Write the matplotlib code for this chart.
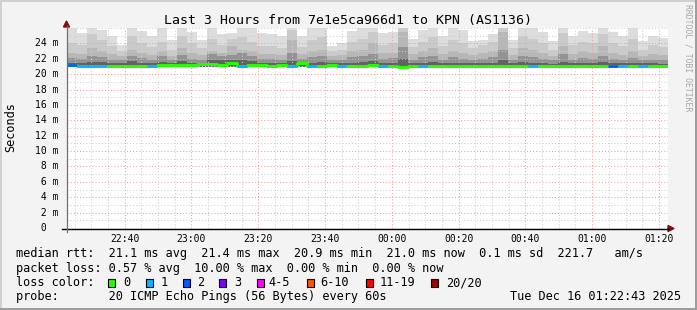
import matplotlib
matplotlib.use('Agg')
import matplotlib.pyplot as plt
import matplotlib.dates as mdates
from matplotlib.patches import Polygon, Rectangle
from matplotlib.lines import Line2D
from matplotlib.transforms import blended_transform_factory
from datetime import datetime, timedelta
import numpy as np

# ---------------- data ----------------
title = "Last 3 Hours from 7e1e5ca966d1 to KPN (AS1136)"
start_time = datetime(2025, 12, 15, 22, 22, 43)
step_minutes = 3

smoke_max = [26, 25.4, 26, 25.7, 25.0, 23.8, 26, 25.6, 25.0, 26, 24.4, 26, 25.5, 24.5, 26, 25.2, 25.4, 26, 26, 25.3,
             25.2, 25.0, 26, 24.9, 26, 26, 23.6, 24.0, 25.6, 26, 26, 25.3, 25.5, 26, 24.6, 25.8, 26, 25.0, 26, 25.7,
             24.3, 24.5, 25.2, 26, 24.4, 26, 26, 25.5, 24.3, 26, 25.0, 25.6, 25.4, 26, 25.5, 24.9, 26, 24.3, 25.0, 24.7]
smoke_p19 = [24.0, 23.8, 25.2, 24.5, 23.6, 23.0, 25.0, 24.0, 23.5, 24.2, 23.2, 25.0, 24.0, 23.4, 24.6, 23.8, 24.6, 24.8, 24.2, 23.6,
             23.6, 23.4, 25.8, 23.5, 24.4, 24.8, 23.0, 23.2, 24.2, 24.6, 25.5, 23.8, 24.0, 26, 23.5, 24.2, 24.8, 23.6, 24.5, 24.0,
             23.4, 23.8, 24.2, 26, 23.4, 25.0, 24.6, 24.0, 23.2, 25.4, 23.8, 24.2, 24.0, 25.2, 24.0, 23.6, 24.6, 23.2, 23.8, 23.5]
smoke_p17 = [22.8, 22.6, 23.4, 23.0, 22.6, 22.4, 23.2, 22.8, 22.5, 23.0, 22.4, 23.4, 22.8, 22.5, 23.0, 22.8, 23.6, 23.2, 23.0, 22.6,
             22.6, 22.5, 24.5, 22.6, 23.0, 23.2, 22.4, 22.5, 23.0, 23.2, 24.0, 22.8, 22.8, 25.5, 22.6, 23.0, 23.4, 22.6, 23.0, 22.8,
             22.5, 22.8, 23.0, 25.5, 22.5, 23.4, 23.2, 22.8, 22.4, 23.6, 22.6, 23.0, 22.8, 23.6, 22.8, 22.5, 23.0, 22.4, 22.6, 22.5]
smoke_p15 = [22.1, 22.0, 22.4, 22.2, 21.9, 21.8, 22.4, 22.1, 21.9, 22.3, 21.8, 22.5, 22.0, 21.9, 22.6, 22.4, 22.5, 22.8, 22.4, 22.0,
             22.0, 21.9, 22.8, 22.0, 22.2, 22.3, 21.8, 21.9, 22.2, 22.4, 22.6, 22.0, 22.1, 23.5, 21.9, 22.2, 22.3, 21.9, 22.2, 22.0,
             21.9, 22.0, 22.2, 23.2, 21.8, 22.4, 22.2, 22.0, 21.8, 22.6, 21.9, 22.1, 22.0, 22.4, 22.0, 21.8, 22.1, 21.8, 21.9, 21.8]
smoke_p12 = [21.5, 21.4, 21.6, 21.6, 21.4, 21.4, 21.7, 21.5, 21.4, 21.6, 21.4, 21.7, 21.5, 21.5, 21.8, 21.8, 21.8, 21.9, 21.7, 21.5,
             21.5, 21.4, 21.7, 21.6, 21.5, 21.6, 21.4, 21.4, 21.5, 21.6, 21.7, 21.5, 21.5, 22.0, 21.4, 21.5, 21.6, 21.4, 21.5, 21.4,
             21.4, 21.5, 21.5, 21.9, 21.4, 21.6, 21.5, 21.4, 21.3, 21.6, 21.4, 21.5, 21.4, 21.6, 21.4, 21.4, 21.5, 21.4, 21.4, 21.3]
smoke_min = [20.9, 20.8, 20.85, 20.85, 20.9, 20.85, 20.8, 20.9, 20.85, 20.9, 20.95, 20.9, 20.9, 20.95, 20.9, 20.9, 20.95, 20.85, 20.9, 20.9,
             20.85, 20.9, 20.85, 20.95, 20.85, 20.9, 20.9, 20.8, 20.9, 20.85, 20.9, 20.85, 20.9, 20.8, 20.85, 20.85, 20.9, 20.9, 20.85, 20.9,
             20.9, 20.85, 20.9, 20.8, 20.85, 20.9, 20.8, 20.9, 20.85, 20.85, 20.85, 20.9, 20.85, 20.9, 20.85, 20.9, 20.85, 20.85, 20.85, 20.85]
median_rtt = [21.15, 21.0, 21.0, 21.0, 21.05, 21.05, 21.0, 21.05, 21.0, 21.15, 21.2, 21.15, 21.2, 21.35, 21.3, 21.25, 21.4, 21.05, 21.15, 21.15,
              21.1, 21.15, 21.1, 21.4, 21.05, 21.1, 21.15, 21.0, 21.1, 21.1, 21.15, 21.05, 21.1, 20.95, 21.1, 21.05, 21.1, 21.1, 21.05, 21.1,
              21.1, 21.05, 21.1, 21.0, 21.05, 21.1, 21.0, 21.1, 21.05, 21.05, 21.05, 21.1, 21.05, 21.1, 21.05, 21.1, 21.05, 21.05, 21.05, 21.05]
loss_count = [2, 1, 1, 1, 0, 0, 0, 0, 1, 0, 0, 0, 0, 0, 0, 0, 0, 1, 0, 0,
              0, 0, 1, 0, 1, 0, 0, 1, 0, 0, 0, 1, 0, 0, 0, 1, 0, 0, 0, 0,
              0, 0, 0, 0, 0, 0, 1, 0, 0, 0, 0, 0, 0, 0, 2, 1, 0, 1, 0, 0]

loss_labels = ['0', '1', '2', '3', '4-5', '6-10', '11-19', '20/20']
loss_colors = ['#26ff00', '#00b8ff', '#0059ff', '#7e00ff', '#ff00ff', '#ff5500', '#ff0000', '#a10000']
loss_upper = [0, 1, 2, 3, 5, 10, 19, 20]

smoke_levels = [smoke_max, smoke_p19, smoke_p17, smoke_p15, smoke_p12]
smoke_colors = ['#dddddd', '#cacaca', '#b7b7b7', '#939393', '#626262']

y_ticks = [0, 2, 4, 6, 8, 10, 12, 14, 16, 18, 20, 22, 24]
y_tick_labels = [' 0  ', ' 2 m', ' 4 m', ' 6 m', ' 8 m', '10 m', '12 m', '14 m', '16 m', '18 m', '20 m', '22 m', '24 m']

stats_lines = [
    "median rtt:  21.1 ms avg  21.4 ms max  20.9 ms min  21.0 ms now  0.1 ms sd  221.7   am/s",
    "packet loss: 0.57 % avg  10.00 % max  0.00 % min  0.00 % now",
]
probe_text = "probe:       20 ICMP Echo Pings (56 Bytes) every 60s"
stamp_text = "Tue Dec 16 01:22:43 2025"

# ---------------- figure ----------------
W, H = 697, 310
MONO = 'DejaVu Sans Mono'
fig = plt.figure(figsize=(W / 100, H / 100), dpi=100, facecolor='#f3f3f3')


def fx(px):
    return px / W


def fy(py):
    return 1 - py / H


ax = fig.add_axes([fx(67), fy(228), (668 - 67) / W, 200 / H])
ax.set_facecolor('white')

n = len(median_rtt)
edges = [start_time + timedelta(minutes=step_minutes * i) for i in range(n + 1)]
x_edges = mdates.date2num(edges)

for vals, col in zip(smoke_levels, smoke_colors):
    ax.fill_between(x_edges, list(smoke_min) + [smoke_min[-1]], list(vals) + [vals[-1]],
                    step='post', color=col, linewidth=0, zorder=1)


def bucket(c):
    for i, u in enumerate(loss_upper):
        if c <= u:
            return i
    return len(loss_upper) - 1


seg_colors = [loss_colors[bucket(c)] for c in loss_count]
ax.step(x_edges, list(median_rtt) + [median_rtt[-1]], where='post', color='#26ff00', lw=1.9, zorder=3)
ax.hlines(median_rtt, x_edges[:-1], x_edges[1:], colors=seg_colors, linewidth=1.9, zorder=4)

ax.set_xlim(x_edges[0], x_edges[-1])
ax.set_ylim(0, 26)

ax.xaxis.set_major_locator(mdates.MinuteLocator(byminute=[0, 20, 40]))
ax.xaxis.set_minor_locator(mdates.MinuteLocator(byminute=range(0, 60, 5)))
ax.xaxis.set_major_formatter(mdates.DateFormatter('%H:%M'))
ax.set_yticks(y_ticks)
ax.set_yticks(range(0, 27), minor=True)

ax.set_axisbelow(False)
ax.grid(which='minor', color='#cfcfcf', linestyle=(0, (1, 2)), linewidth=0.75)
ax.grid(which='major', color='#f0a0a0', linestyle=(0, (1, 2)), linewidth=0.75)

ax.tick_params(axis='y', which='both', left=False, labelleft=False)
ax.tick_params(axis='x', which='major', direction='out', length=1.5, width=0.7, pad=2.5,
               labelsize=7, color='#e0b0b0')
ax.tick_params(axis='x', which='minor', direction='out', length=1.5, width=0.7, color='#d0d0d0')
for lbl in ax.get_xticklabels():
    lbl.set_fontfamily(MONO)

for s in ax.spines.values():
    s.set_visible(False)

trans = blended_transform_factory(fig.transFigure, ax.transData)
for v, lab in zip(y_ticks, y_tick_labels):
    ax.text(fx(35), v, lab, transform=trans, ha='left', va='center', fontsize=7, family=MONO,
            clip_on=False)

# axes lines and arrows
fig.add_artist(Line2D([fx(62), fx(669)], [fy(228.5), fy(228.5)], color='black', lw=1.0))
fig.add_artist(Line2D([fx(66.5), fx(66.5)], [fy(232), fy(26)], color='#707070', lw=0.9))
arrow_col = '#7f1010'
fig.add_artist(Polygon([[fx(63.5), fy(27)], [fx(69.5), fy(27)], [fx(66.5), fy(21)]],
                       closed=True, color=arrow_col, transform=fig.transFigure))
fig.add_artist(Polygon([[fx(668), fy(225.5)], [fx(668), fy(231.5)], [fx(674), fy(228.5)]],
                       closed=True, color=arrow_col, transform=fig.transFigure))

# frame shading
fig.add_artist(Rectangle((0, fy(2)), 1, 2 / H, color='#d0d0d0', transform=fig.transFigure, lw=0))
fig.add_artist(Rectangle((0, 0), 2 / W, 1, color='#d0d0d0', transform=fig.transFigure, lw=0))
fig.add_artist(Rectangle((0, 0), 1, 2 / H, color='#9e9e9e', transform=fig.transFigure, lw=0))
fig.add_artist(Rectangle((fx(695), 0), 2 / W, 1, color='#9e9e9e', transform=fig.transFigure, lw=0))

# texts
fig.text(fx(347.5), fy(24), title, ha='center', va='baseline', fontsize=9.5, family=MONO)
fig.text(fx(10.5), fy(127), 'Seconds', rotation=90, ha='center', va='center', fontsize=8.6, family=MONO)
fig.text(fx(688), fy(4), 'RRDTOOL / TOBI OETIKER', rotation=270, ha='center', va='top',
         fontsize=5.9, family=MONO, color='#a8a8a8')

fs = 8.55
fig.text(fx(16), fy(257.5), stats_lines[0], ha='left', va='baseline', fontsize=fs, family=MONO)
fig.text(fx(16), fy(271.8), stats_lines[1], ha='left', va='baseline', fontsize=fs, family=MONO)
fig.text(fx(16), fy(286), 'loss color:', ha='left', va='baseline', fontsize=fs, family=MONO)
box_x = [108, 146, 183, 219, 257, 307, 366, 431]
lab_x = [123, 161, 197, 234, 268, 320, 380, 446]
for bx, lx, lab, col in zip(box_x, lab_x, loss_labels, loss_colors):
    fig.add_artist(Rectangle((fx(bx), fy(286.5)), 7 / W, 7.5 / H, facecolor=col, edgecolor='black',
                             lw=0.8, transform=fig.transFigure))
    fig.text(fx(lx), fy(286), lab, ha='left', va='baseline', fontsize=fs, family=MONO)
fig.text(fx(16), fy(300), probe_text, ha='left', va='baseline', fontsize=fs, family=MONO)
fig.text(fx(681), fy(300), stamp_text, ha='right', va='baseline', fontsize=fs, family=MONO)

fig.savefig('out.png', dpi=100, facecolor=fig.get_facecolor())
